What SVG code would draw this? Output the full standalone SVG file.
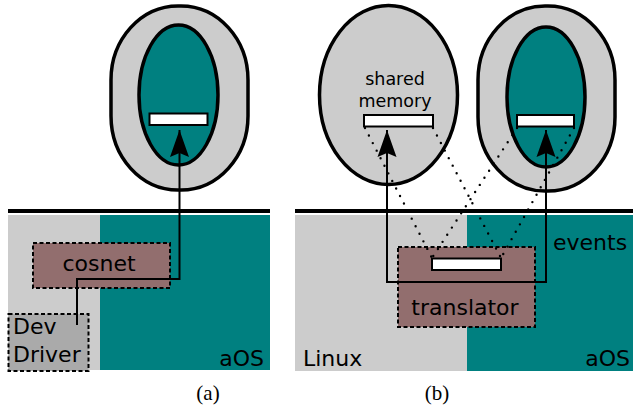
<svg xmlns="http://www.w3.org/2000/svg" width="633" height="408" viewBox="0 0 633 408">
  <style>
    .sans { font-family: "DejaVu Sans", "Liberation Sans", sans-serif; fill: #000; }
    .serif { font-family: "Liberation Serif", "Times New Roman", serif; fill: #000; }
    .outer { fill: #cccccc; stroke: #000; stroke-width: 3.5; }
    .inner { fill: #008080; stroke: #000; stroke-width: 3.5; }
    .buf { fill: #ffffff; stroke: #000; stroke-width: 2; }
    .box { stroke: #000; stroke-width: 2; stroke-dasharray: 4 2.5; }
    .link { fill: none; stroke: #000; stroke-width: 2; }
    .dots { fill: none; stroke: #000; stroke-width: 2.4; stroke-linecap: round; stroke-dasharray: 0 8.5; }
    .floor { stroke: #000; stroke-width: 4; }
  </style>
  <defs>
    <marker id="arrow" markerUnits="userSpaceOnUse" markerWidth="28" markerHeight="20" viewBox="0 0 28 20" refX="27" refY="10" orient="auto">
      <path d="M0,0.5 L27,10 L0,19.5 L4,10 Z" fill="#000"/>
    </marker>
  </defs>

  <!-- panel (a) -->
  <g id="a-linux-area"><rect x="8" y="215" width="92" height="155" fill="#cccccc"/></g>
  <g id="a-aos-area"><rect x="100" y="215" width="170" height="155" fill="#008080"/></g>
  <line class="floor" x1="8" y1="211" x2="270" y2="211"/>

  <g id="a-vm">
    <rect class="outer" x="111" y="6" width="137" height="184" rx="67" ry="74"/>
    <ellipse class="inner" cx="178.5" cy="95" rx="39.5" ry="70"/>
    <rect class="buf" x="149.5" y="113.5" width="58" height="11.5"/>
  </g>

  <g id="a-cosnet">
    <rect class="box" x="33" y="243" width="137" height="45" fill="#926e6e"/>
    <text class="sans" x="99" y="271" font-size="22" text-anchor="middle">cosnet</text>
  </g>

  <g id="a-driver">
    <rect class="box" x="8.5" y="314" width="80" height="57" fill="#aaaaaa"/>
    <text class="sans" x="13" y="334" font-size="22">Dev</text>
    <text class="sans" x="13" y="362" font-size="22">Driver</text>
  </g>

  <text class="sans" x="264" y="366" font-size="22" text-anchor="end">aOS</text>
  <text class="serif" x="208" y="400" font-size="21" text-anchor="middle">(a)</text>

  <!-- panel (b) -->
  <g id="b-linux-area"><rect x="295" y="215" width="172" height="156" fill="#cccccc"/></g>
  <g id="b-aos-area"><rect x="467" y="215" width="166" height="156" fill="#008080"/></g>
  <line class="floor" x1="295" y1="211" x2="633" y2="211"/>

  <g id="b-linux-proc">
    <ellipse class="outer" cx="388.5" cy="95" rx="69" ry="89.5"/>
    <text class="sans" x="395" y="85" font-size="17.5" text-anchor="middle">shared</text>
    <text class="sans" x="395" y="107" font-size="17.5" text-anchor="middle">memory</text>
    <rect class="buf" x="364" y="115" width="69" height="11.5"/>
  </g>

  <g id="b-vm">
    <rect class="outer" x="478" y="6" width="137" height="185" rx="67" ry="74"/>
    <ellipse class="inner" cx="546" cy="97" rx="39" ry="70"/>
    <rect class="buf" x="517" y="115" width="57" height="11.5"/>
  </g>

  <g id="b-translator">
    <rect class="box" x="398" y="247" width="137" height="80" fill="#926e6e"/>
    <rect class="buf" x="432" y="258.5" width="69" height="11.5"/>
    <text class="sans" x="465" y="315" font-size="22" text-anchor="middle">translator</text>
  </g>

  <text class="sans" x="553" y="250" font-size="22">events</text>
  <text class="sans" x="303" y="366" font-size="22">Linux</text>
  <text class="sans" x="630" y="366" font-size="22" text-anchor="end">aOS</text>
  <text class="serif" x="437" y="400" font-size="21" text-anchor="middle">(b)</text>

  <!-- connectors -->
  <g id="connectors">
    <path class="link" d="M77,325 V279 H179.5 V130" marker-end="url(#arrow)"/>
    <path class="link" d="M466,282 H387 V130" marker-end="url(#arrow)"/>
    <path class="link" d="M466,282 H546 V130" marker-end="url(#arrow)"/>
    <line class="dots" x1="365" y1="128" x2="432" y2="258"/>
    <line class="dots" x1="433" y1="128" x2="501" y2="258"/>
    <line class="dots" x1="517" y1="128" x2="432" y2="258"/>
    <line class="dots" x1="574" y1="128" x2="501" y2="258"/>
  </g>
</svg>
